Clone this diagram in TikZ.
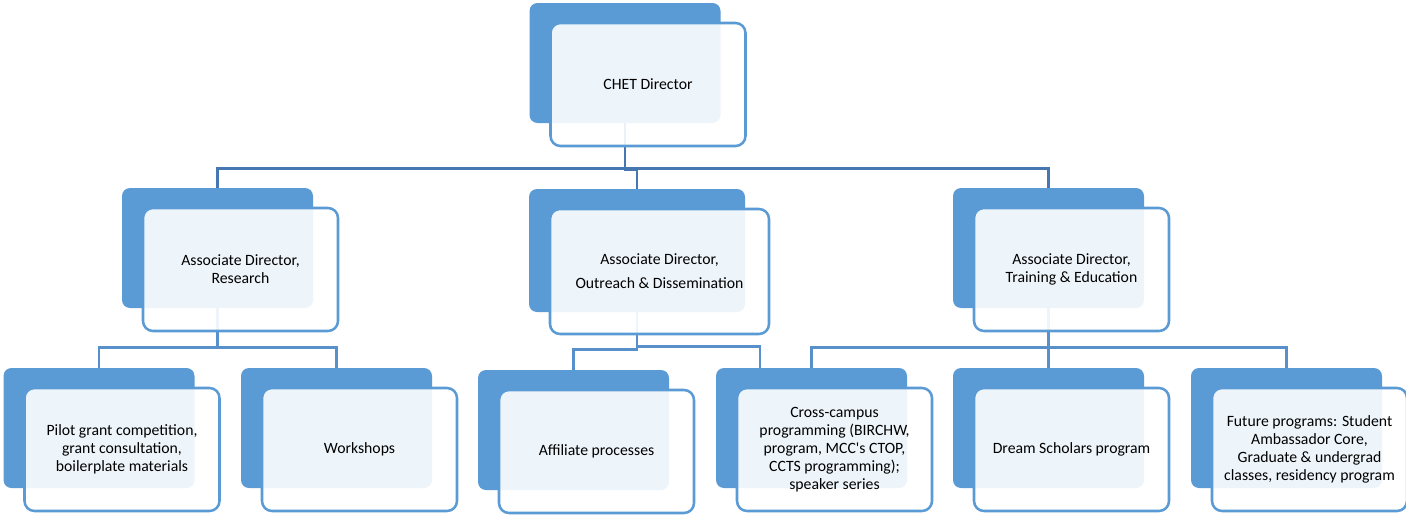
\documentclass[tikz,border=0pt]{standalone}
\usepackage{fontspec}
\setmainfont{Carlito}
\usepackage{tikz}
\usetikzlibrary{positioning}
\definecolor{unitblue}{HTML}{5B9BD5}
\definecolor{linkblue}{HTML}{4677B0}
\definecolor{sublinkblue}{HTML}{5790CB}
\tikzset{
    backbox/.style={fill=unitblue, rounded corners=6pt, minimum width=143.25pt,
        minimum height=90pt, inner sep=0pt},
    frontbox/.style={draw=unitblue, line width=1.9pt, fill=white, fill opacity=0.9,
        text opacity=1, rounded corners=7.5pt, minimum width=146.25pt,
        minimum height=92.25pt, inner sep=2pt, align=center, anchor=north west,
        font=\fontsize{11.8pt}{13.5pt}\selectfont},
    toplink/.style={draw=linkblue, line width=2pt},
    sublink/.style={draw=sublinkblue, line width=2pt},
}

\begin{document}
\begin{tikzpicture}[x=0.75pt, y=-0.75pt]
    \fill[white] (0,0) rectangle (1406,514);
    \useasboundingbox (0,0) rectangle (1406,514);

    \node[backbox] (dir-back) at (625,63) {};
    \node[backbox] (res-back) at (217.5,248) {};
    \node[backbox, minimum width=162pt, minimum height=92.25pt] (out-back) at (637,250.5) {};
    \node[backbox] (edu-back) at (1048.5,248) {};
    \node[backbox] (pilot-back) at (99,428) {};
    \node[backbox] (work-back) at (336.5,428) {};
    \node[backbox] (aff-back) at (573.5,430) {};
    \node[backbox] (cross-back) at (811.5,428) {};
    \node[backbox] (dream-back) at (1048.5,428) {};
    \node[backbox] (future-back) at (1286.5,428) {};

    \foreach \unit in {res,out,edu}
        \draw[toplink] (\unit-back.north) -- ++(0,-19) -| (dir-back.south);
    \foreach \unit in {pilot,work}
        \draw[sublink] (\unit-back.north) -- ++(0,-20) -| (res-back.south);
    \draw[sublink] (aff-back.north) -- ++(0,-20) -| (out-back.south);
    \draw[sublink] ([xshift=-38.6pt]cross-back.north) -- ++(0,-21) -| (out-back.south);
    \foreach \unit in {cross,dream,future}
        \draw[sublink] (\unit-back.north) -- ++(0,-20) -| (edu-back.south);

    \node[frontbox] (dir) at ([shift={(20,19)}]dir-back.north west) {CHET Director};
    \node[frontbox] (res) at ([shift={(20,19)}]res-back.north west)
        {Associate Director,\\ Research};
    \node[frontbox, minimum width=164.25pt, minimum height=93.75pt] (out)
        at ([shift={(20,19)}]out-back.north west)
        {Associate Director,\\[4.5pt] Outreach \& Dissemination};
    \node[frontbox] (edu) at ([shift={(20,19)}]edu-back.north west)
        {Associate Director,\\ Training \& Education};
    \node[frontbox] (pilot) at ([shift={(20,19)}]pilot-back.north west)
        {Pilot grant competition,\\ grant consultation,\\ boilerplate materials};
    \node[frontbox] (work) at ([shift={(20,19)}]work-back.north west) {Workshops};
    \node[frontbox] (aff) at ([shift={(20,19)}]aff-back.north west) {Affiliate processes};
    \node[frontbox] (cross) at ([shift={(20,19)}]cross-back.north west)
        {Cross-campus\\ programming (BIRCHW,\\ program, MCC\textquotesingle s CTOP,\\
        CCTS programming);\\ speaker series};
    \node[frontbox] (dream) at ([shift={(20,19)}]dream-back.north west)
        {Dream Scholars program};
    \node[frontbox] (future) at ([shift={(20,19)}]future-back.north west)
        {Future programs: Student\\ Ambassador Core,\\ Graduate \& undergrad\\
        classes, residency program};
\end{tikzpicture}
\end{document}
